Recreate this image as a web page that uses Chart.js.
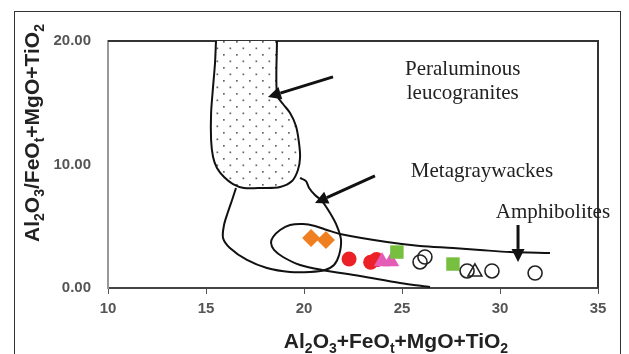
<!DOCTYPE html>
<html>
<head>
<meta charset="utf-8">
<script src="https://cdn.jsdelivr.net/npm/chart.js@4.4.0/dist/chart.umd.min.js"></script>
<style>
html, body { margin: 0; padding: 0; background: #fff; }
#wrap { position: relative; width: 629px; height: 354px; overflow: hidden; }
#frame { position: absolute; left: 14px; top: 11px; width: 605px; height: 400px; border: 1.5px solid #333; }
#myChart { position: absolute; left: 0; top: 0; }
</style>
</head>
<body>
<div id="wrap">
  <div id="frame"></div>
  <canvas id="myChart" width="629" height="354"></canvas>
</div>
<script>
const xTicks = [10, 15, 20, 25, 30, 35];
const yTicks = [0, 10, 20];

// samples, [x, y]
const orangeDiamonds = [[20.36, 4.05], [21.12, 3.89]];
const redCircles = [[22.30, 2.35], [23.40, 2.08], [23.70, 2.30]];
const pinkTriangles = [[23.98, 2.15], [24.44, 2.15]];
const greenSquares = [[24.74, 2.91], [27.60, 1.94]];
const openCircles = [[25.92, 2.11], [26.17, 2.51], [28.32, 1.38], [29.59, 1.38], [31.79, 1.21]];
const openTriangles = [[28.72, 1.30]];

// field boundaries
const leucoField = [
  [15.51, 20.0], [15.46, 18.22], [15.36, 16.28], [15.26, 14.17], [15.26, 11.98], [15.36, 10.61],
  [15.56, 9.72], [15.92, 8.99], [16.38, 8.42], [16.94, 8.10], [17.86, 8.10], [18.78, 8.18],
  [19.39, 8.66], [19.69, 9.55], [19.80, 10.61], [19.74, 11.82], [19.59, 13.12], [19.29, 14.17],
  [18.93, 14.90], [18.62, 15.63], [18.62, 20.0]
];
const metaField = [
  [19.80, 8.91], [20.10, 8.66], [20.26, 8.10], [20.56, 7.53], [20.92, 7.04], [21.33, 6.07],
  [21.68, 5.02], [21.89, 3.89], [21.79, 2.67], [21.53, 1.86], [21.07, 1.46], [20.31, 1.30],
  [19.29, 1.30], [18.11, 1.62], [17.09, 2.27], [16.22, 3.24], [15.87, 4.05], [15.92, 5.10],
  [16.12, 6.15], [16.33, 7.13], [16.53, 8.10]
];
const amphField = [
  [32.55, 2.83], [30.51, 2.91], [28.98, 3.08], [27.60, 3.24], [25.92, 3.40], [24.23, 3.72],
  [21.84, 4.37], [21.17, 4.70], [20.56, 5.02], [19.95, 5.18], [19.29, 5.10], [18.78, 4.70],
  [18.42, 4.13], [18.32, 3.64], [18.47, 3.08], [18.93, 2.51], [19.80, 1.86], [20.92, 1.46],
  [22.86, 0.97], [24.90, 0.40], [26.43, 0.08]
];

// arrows: [fromX, fromY, toX, toY]
const arrows = [
  [21.48, 17.09, 18.16, 15.47],
  [23.62, 9.07, 20.56, 6.88],
  [30.92, 5.10, 30.92, 2.11]
];

// field names, anchored at [x, baseline y]
const fieldNames = ['Peraluminous', 'leucogranites', 'Metagraywackes', 'Amphibolites'];
const fieldNameAt = [[28.1, 17.25], [28.1, 15.3], [29.08, 8.99], [32.7, 5.67]];

const xTitle = [['Al', 0], ['2', 1], ['O', 0], ['3', 1], ['+FeO', 0], ['t', 1], ['+MgO+TiO', 0], ['2', 1]];
const yTitle = [['Al', 0], ['2', 1], ['O', 0], ['3', 1], ['/FeO', 0], ['t', 1], ['+MgO+TiO', 0], ['2', 1]];

const pts = arr => arr.map(p => ({ x: p[0], y: p[1] }));

let ctx = document.getElementById('myChart').getContext('2d');

// dotted fill for the leucogranite field
const tile = document.createElement('canvas');
tile.width = 13; tile.height = 13;
const tg = tile.getContext('2d');
tg.fillStyle = '#fff';
tg.fillRect(0, 0, 13, 13);
tg.fillStyle = '#666';
tg.fillRect(2, 2, 1.7, 1.7);
tg.fillRect(8.5, 8.5, 1.7, 1.7);
const dots = ctx.createPattern(tile, 'repeat');

function richText(c, parts, x, y) {
  const big = 'bold 21px "Liberation Sans"';
  const small = 'bold 14px "Liberation Sans"';
  let w = 0;
  parts.forEach(p => { c.font = p[1] ? small : big; w += c.measureText(p[0]).width; });
  let cx = x - w / 2;
  c.textAlign = 'left';
  c.textBaseline = 'alphabetic';
  parts.forEach(p => {
    c.font = p[1] ? small : big;
    c.fillText(p[0], cx, p[1] ? y + 5 : y);
    cx += c.measureText(p[0]).width;
  });
}

const overlay = {
  id: 'overlay',
  beforeDatasetsDraw(chart) {
    const a = chart.chartArea;
    const c = chart.ctx;
    c.save();
    c.strokeStyle = '#333';
    c.lineWidth = 2;
    c.beginPath();
    c.moveTo(a.left, a.top);
    c.lineTo(a.right, a.top);
    c.lineTo(a.right, a.bottom);
    c.stroke();
    c.restore();
  },
  afterDatasetsDraw(chart) {
    const c = chart.ctx;
    const xs = chart.scales.x, ys = chart.scales.y;
    c.save();
    c.strokeStyle = '#111';
    c.fillStyle = '#111';
    c.lineWidth = 3;
    arrows.forEach(r => {
      const x0 = xs.getPixelForValue(r[0]), y0 = ys.getPixelForValue(r[1]);
      const x1 = xs.getPixelForValue(r[2]), y1 = ys.getPixelForValue(r[3]);
      const ang = Math.atan2(y1 - y0, x1 - x0);
      const head = 13, half = 6.5;
      const bx = x1 - head * Math.cos(ang), by = y1 - head * Math.sin(ang);
      c.beginPath();
      c.moveTo(x0, y0);
      c.lineTo(bx, by);
      c.stroke();
      c.beginPath();
      c.moveTo(x1, y1);
      c.lineTo(bx + half * Math.sin(ang), by - half * Math.cos(ang));
      c.lineTo(bx - half * Math.sin(ang), by + half * Math.cos(ang));
      c.closePath();
      c.fill();
    });
    c.font = '21px "Liberation Serif"';
    c.fillStyle = '#222';
    c.textAlign = 'center';
    c.textBaseline = 'alphabetic';
    fieldNames.forEach((t, i) => {
      c.fillText(t, xs.getPixelForValue(fieldNameAt[i][0]), ys.getPixelForValue(fieldNameAt[i][1]));
    });
    c.restore();
  },
  afterDraw(chart) {
    const a = chart.chartArea;
    const c = chart.ctx;
    c.save();
    c.fillStyle = '#222';
    richText(c, xTitle, a.left + 288, a.bottom + 60);
    c.translate(a.left - 76, a.top + 92);
    c.rotate(-Math.PI / 2);
    richText(c, yTitle, 0, 7);
    c.restore();
  }
};

const tickFont = { family: 'Liberation Sans', size: 15, weight: 'bold' };

new Chart(ctx, {
  type: 'scatter',
  data: {
    datasets: [
      { data: pts(openTriangles), pointStyle: 'triangle', pointRadius: 8, backgroundColor: 'rgba(0,0,0,0)', borderColor: '#222', borderWidth: 1.6 },
      { data: pts(openCircles), pointStyle: 'circle', pointRadius: 7, backgroundColor: 'rgba(0,0,0,0)', borderColor: '#222', borderWidth: 1.6 },
      { data: pts(greenSquares), pointStyle: 'rect', pointRadius: 9.5, backgroundColor: '#76bf3f', borderWidth: 0 },
      { data: pts(pinkTriangles), pointStyle: 'triangle', pointRadius: 9.5, backgroundColor: '#e45cb6', borderWidth: 0 },
      { data: pts(redCircles), pointStyle: 'circle', pointRadius: 7.5, backgroundColor: '#ec2027', borderWidth: 0 },
      { data: pts(orangeDiamonds), pointStyle: 'rectRot', pointRadius: 9, backgroundColor: '#f07f22', borderWidth: 0 },
      { type: 'line', data: pts(amphField), showLine: true, pointRadius: 0, borderColor: '#111', borderWidth: 2, tension: 0.3, fill: false },
      { type: 'line', data: pts(metaField), showLine: true, pointRadius: 0, borderColor: '#111', borderWidth: 2, tension: 0.3, fill: false },
      { type: 'line', data: pts(leucoField), showLine: true, pointRadius: 0, borderColor: '#111', borderWidth: 2, tension: 0.3, fill: false, clip: { left: 0, top: 3, right: 0, bottom: 0 } },
      { type: 'line', data: leucoField.map(p => ({ x: p[0], y: p[1] >= 20 ? 20.2 : p[1] })), showLine: true, pointRadius: 0, borderWidth: 0, borderColor: 'rgba(0,0,0,0)', backgroundColor: dots, tension: 0.3, fill: 'shape', clip: { left: 0, top: 3, right: 0, bottom: 0 } }
    ]
  },
  options: {
    responsive: false,
    animation: false,
    layout: { padding: { left: 0, top: 41, right: 31, bottom: 0 } },
    plugins: { legend: { display: false }, tooltip: { enabled: false } },
    scales: {
      x: {
        type: 'linear', min: 10, max: 35,
        afterBuildTicks: s => { s.ticks = xTicks.map(v => ({ value: v })); },
        afterFit: s => { s.height = 66; },
        grid: { drawOnChartArea: false, color: '#555', tickLength: 6 },
        border: { color: '#444', width: 2 },
        ticks: { font: tickFont, color: '#555', padding: 6 }
      },
      y: {
        type: 'linear', min: 0, max: 20,
        afterBuildTicks: s => { s.ticks = yTicks.map(v => ({ value: v })); },
        afterFit: s => { s.width = 108; },
        grid: { display: false, drawTicks: false },
        border: { color: '#999', width: 2 },
        ticks: { font: tickFont, color: '#555', padding: 17, callback: v => v.toFixed(2) }
      }
    }
  },
  plugins: [overlay]
});
</script>
</body>
</html>
